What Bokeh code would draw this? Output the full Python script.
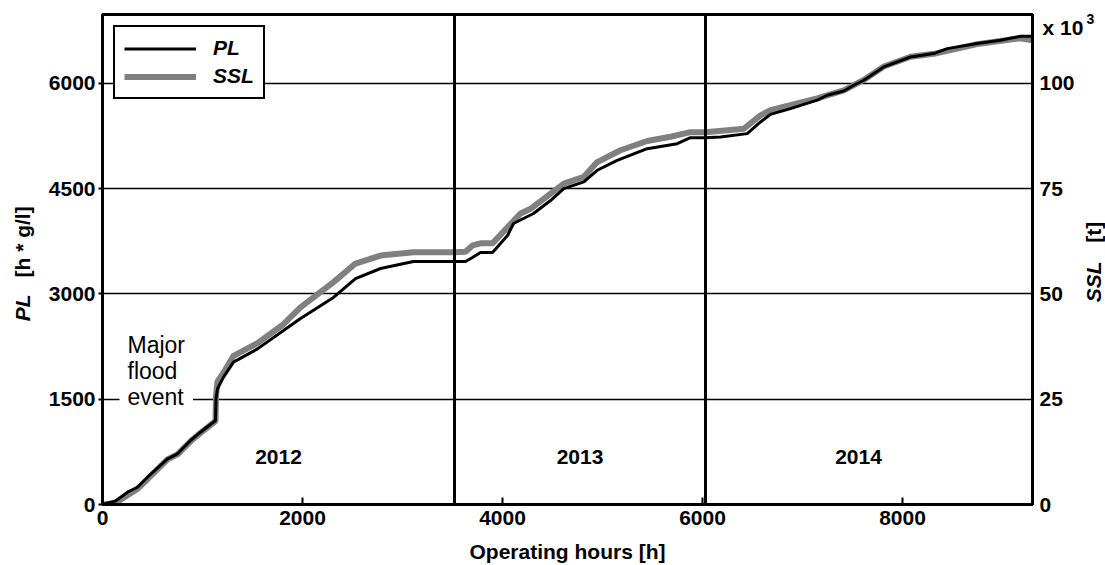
from bokeh.plotting import figure
from bokeh.models import (Range1d, LinearAxis, FixedTicker, Span, Label,
                          Legend, LegendItem, ColumnDataSource)
from bokeh.core.properties import value
from bokeh.embed import file_html
from bokeh.resources import INLINE

# Cumulative pollutant load PL [h * g/l] over operating hours
hours_pl = [0, 130, 250, 350, 450, 650, 750, 880, 980, 1130, 1135, 1150,
            1210, 1310, 1550, 1810, 1980, 2310, 2530, 2780, 3110, 3520,
            3630, 3700, 3780, 3900, 4050, 4110, 4310, 4480, 4613, 4813,
            4947, 5147, 5447, 5747, 5880, 6030, 6180, 6447, 6580, 6680,
            6880, 7147, 7247, 7413, 7513, 7613, 7813, 8080, 8313, 8447,
            8747, 8980, 9180, 9300]
pl = [0, 50, 175, 246, 389, 650, 722, 912, 1030, 1197, 1506, 1648,
      1814, 2028, 2217, 2479, 2650, 2949, 3219, 3362, 3462, 3462,
      3462, 3519, 3590, 3590, 3832, 4003, 4145, 4330, 4500, 4595,
      4761, 4903, 5069, 5140, 5226, 5226, 5236, 5283, 5449, 5558,
      5640, 5760, 5830, 5891, 5972, 6043, 6233, 6375, 6423, 6494,
      6566, 6613, 6670, 6670]

# Cumulative suspended sediment load SSL [x 10^3 t]
hours_ssl = [0, 130, 250, 350, 450, 650, 750, 880, 980, 1130, 1135, 1150,
             1210, 1310, 1550, 1810, 1980, 2310, 2530, 2780, 3110, 3520,
             3630, 3700, 3780, 3900, 4050, 4180, 4280, 4613, 4813, 4947,
             5180, 5447, 5680, 5880, 6030, 6413, 6580, 6680, 7147, 7413,
             7613, 7813, 8080, 8313, 8747, 9180, 9300]
ssl_kt = [0, 0.33, 2.2, 3.7, 6.0, 10.7, 11.9, 15.0, 17.0, 19.8, 25.8, 29.2,
          31.3, 35.3, 38.3, 42.8, 46.8, 52.8, 57.2, 59.1, 59.9, 59.9,
          60.0, 61.5, 62.0, 62.0, 65.8, 69.1, 70.2, 76.2, 77.8, 81.3,
          84.1, 86.3, 87.3, 88.4, 88.4, 89.2, 92.4, 93.6, 96.4, 98.3,
          100.8, 104.0, 106.3, 107.0, 109.3, 110.7, 110.2]

x_ticks = [0, 2000, 4000, 6000, 8000]
pl_ticks = [0, 1500, 3000, 4500, 6000]
ssl_ticks = [0, 25, 50, 75, 100]
year_bounds = [3520, 6030]
years = ["2012", "2013", "2014"]
year_mid = [1760, 4775, 7560]

X_MAX = 9300
PL_MAX = 6980
SSL_MAX = PL_MAX * 100 / 6000   # 6000 h*g/l is level with 100 x 10^3 t

FONT = "Liberation Sans"
TICK_SIZE = "21px"
INK = "black"

p = figure(width=1105, height=565, output_backend="svg",
           toolbar_location=None,
           x_range=Range1d(0, X_MAX), y_range=Range1d(0, PL_MAX),
           min_border_left=102, min_border_right=73,
           min_border_top=14, min_border_bottom=61)
p.extra_y_ranges = {"ssl": Range1d(0, SSL_MAX)}

p.outline_line_color = INK
p.outline_line_width = 3
p.outline_line_alpha = 1.0
p.background_fill_color = "white"
p.border_fill_color = "white"

# grid: horizontal lines only
p.xgrid.visible = False
p.ygrid.ticker = FixedTicker(ticks=pl_ticks)
p.ygrid.grid_line_color = INK
p.ygrid.grid_line_width = 1.5
p.ygrid.grid_line_alpha = 1.0


def style_ticks(ax):
    ax.axis_line_width = 3
    ax.axis_line_color = INK
    ax.major_tick_line_color = INK
    ax.major_tick_line_width = 2
    ax.minor_tick_line_color = None
    ax.major_label_text_font = FONT
    ax.major_label_text_font_style = "bold"
    ax.major_label_text_font_size = TICK_SIZE
    ax.major_label_text_color = INK


# bottom axis
xa = p.xaxis[0]
xa.ticker = FixedTicker(ticks=x_ticks)
style_ticks(xa)
xa.major_tick_in = 7
xa.major_tick_out = 0
xa.major_label_standoff = 6

# left axis
ya = p.yaxis[0]
ya.ticker = FixedTicker(ticks=pl_ticks)
style_ticks(ya)
ya.major_tick_in = 0
ya.major_tick_out = 4
ya.major_label_standoff = 3

# right axis for SSL
ra = LinearAxis(y_range_name="ssl", ticker=FixedTicker(ticks=ssl_ticks))
style_ticks(ra)
ra.major_tick_in = 0
ra.major_tick_out = 0
ra.major_label_standoff = 7
p.add_layout(ra, "right")

# year separators
for xb in year_bounds:
    p.add_layout(Span(location=xb, dimension="height",
                      line_color=INK, line_width=3))

# curves
r_ssl = p.line(hours_ssl, ssl_kt, y_range_name="ssl",
               line_color="#808080", line_width=6)
r_pl = p.line(hours_pl, pl, line_color=INK, line_width=3)

legend = Legend(items=[LegendItem(label="PL", renderers=[r_pl]),
                       LegendItem(label="SSL", renderers=[r_ssl])],
                location="top_left", margin=11, padding=9, spacing=4,
                glyph_width=72, glyph_height=23, label_height=23,
                label_standoff=17,
                label_text_font=FONT, label_text_font_style="bold italic",
                label_text_font_size="21px", label_text_color=INK,
                border_line_color=INK, border_line_width=2,
                border_line_alpha=1.0,
                background_fill_color="white", background_fill_alpha=1.0)
p.add_layout(legend)

# year labels
for yr, xm in zip(years, year_mid):
    p.add_layout(Label(x=xm, y=670, text=yr, text_align="center",
                       text_baseline="middle", text_font=FONT,
                       text_font_style="bold", text_font_size=TICK_SIZE,
                       text_color=INK))

# flood annotation
p.add_layout(Label(x=170, y=2577, text="Major\nflood\nevent",
                   text_align="left", text_baseline="top", text_font=FONT,
                   text_font_size="23px", text_line_height=1.0,
                   text_color=INK, background_fill_color="white",
                   padding=8))

# axis titles and the scale factor, drawn as text glyphs in the margins
titles = ColumnDataSource(dict(
    x=[4650, -800, -800, 9910, 9910, 9400, 9840],
    y=[-670, 2800, 3741, 3171, 3877, 6790, 6910],
    text=["Operating hours [h]", "PL", "[h * g/l]", "SSL", "[t]",
          "x 10", "3"],
    angle=[0, 90, 90, 90, 90, 0, 0],
    align=["center", "center", "center", "center", "center",
           "left", "left"],
    baseline=["middle", "middle", "middle", "middle", "middle",
              "alphabetic", "alphabetic"],
    style=["bold", "bold italic", "bold", "bold italic", "bold",
           "bold", "bold"],
    size=["21px", "21px", "21px", "21px", "21px", "21px", "14px"],
))
p.text(x="x", y="y", text="text", angle="angle", angle_units="deg",
       text_align="align", text_baseline="baseline",
       text_font=value(FONT), text_font_style="style",
       text_font_size="size", text_color=INK, source=titles,
       level="overlay")

open("out.html", "w").write(file_html(p, INLINE))
